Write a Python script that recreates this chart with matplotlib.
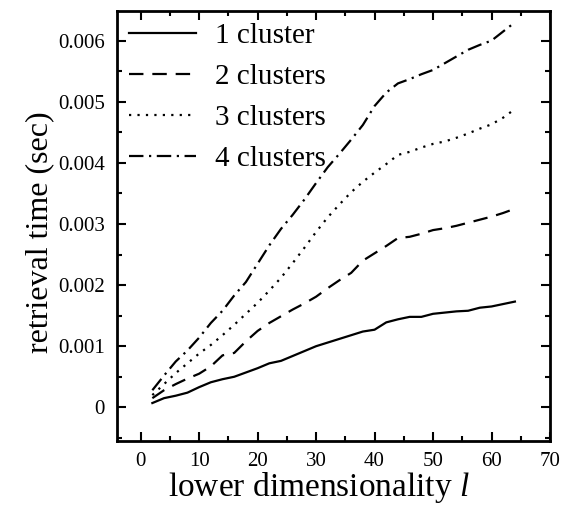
import matplotlib
matplotlib.use("Agg")
import matplotlib.pyplot as plt
from matplotlib.ticker import MultipleLocator

plt.rcParams['font.family'] = ['Liberation Serif', 'DejaVu Serif']
plt.rcParams['mathtext.fontset'] = 'custom'
plt.rcParams['mathtext.it'] = 'Liberation Serif:italic'

# lower dimensionality l
dims = list(range(2, 66, 2))

# retrieval time (sec)
one_cluster = [0.00007, 0.00015, 0.00019, 0.00024, 0.00033, 0.00041, 0.00046, 0.00050,
               0.00057, 0.00064, 0.00072, 0.00076, 0.00084, 0.00092, 0.00100, 0.00106,
               0.00112, 0.00118, 0.00124, 0.00127, 0.00139, 0.00144, 0.00148, 0.00148,
               0.00153, 0.00155, 0.00157, 0.00158, 0.00163, 0.00165, 0.00169, 0.00173]
two_clusters = [0.00015, 0.00028, 0.00038, 0.00047, 0.00055, 0.00067, 0.00085, 0.00089,
                0.00108, 0.00125, 0.00138, 0.00149, 0.00160, 0.00170, 0.00181, 0.00195,
                0.00208, 0.00220, 0.00240, 0.00252, 0.00264, 0.00277, 0.00279, 0.00284,
                0.00290, 0.00293, 0.00297, 0.00302, 0.00307, 0.00312, 0.00318, 0.00325]
three_clusters = [0.00020, 0.00038, 0.00056, 0.00072, 0.00088, 0.00102, 0.00118, 0.00135,
                  0.00153, 0.00171, 0.00191, 0.00212, 0.00236, 0.00261, 0.00287, 0.00311,
                  0.00332, 0.00352, 0.00369, 0.00384, 0.00398, 0.00413, 0.00418, 0.00425,
                  0.00431, 0.00435, 0.00441, 0.00448, 0.00456, 0.00463, 0.00474, 0.00488]
four_clusters = [0.00028, 0.00052, 0.00075, 0.00093, 0.00114, 0.00138, 0.00158, 0.00183,
                 0.00205, 0.00235, 0.00265, 0.00292, 0.00315, 0.00340, 0.00367, 0.00393,
                 0.00415, 0.00438, 0.00462, 0.00493, 0.00515, 0.00530, 0.00537, 0.00545,
                 0.00552, 0.00563, 0.00574, 0.00585, 0.00593, 0.00600, 0.00615, 0.00630]

labels = ['1 cluster', '2 clusters', '3 clusters', '4 clusters']

fig = plt.figure(figsize=(5.66, 5.11), dpi=100)
ax = fig.add_axes([0.2072, 0.1376, 0.7645, 0.8415])

lw = 1.6
ax.plot(dims, one_cluster, color='black', lw=lw, linestyle='-', label=labels[0])
ax.plot(dims, two_clusters, color='black', lw=lw, linestyle=(0, (6.5, 4)), label=labels[1])
ax.plot(dims, three_clusters, color='black', lw=lw, linestyle=(0, (1, 2.8)), label=labels[2])
ax.plot(dims, four_clusters, color='black', lw=lw, linestyle=(0, (6.5, 2.5, 1, 2.5)), label=labels[3])

ax.set_xlim(-4, 70)
ax.set_ylim(-0.000546, 0.00649)
ax.xaxis.set_major_locator(MultipleLocator(10))
ax.xaxis.set_minor_locator(MultipleLocator(5))
ax.yaxis.set_minor_locator(MultipleLocator(0.0005))
ax.set_yticks([0, 0.001, 0.002, 0.003, 0.004, 0.005, 0.006])
ax.set_yticklabels(['0', '0.001', '0.002', '0.003', '0.004', '0.005', '0.006'])

ax.tick_params(which='both', direction='in', top=True, right=True, labelsize=15, width=1.5)
ax.tick_params(which='major', length=6.5)
ax.tick_params(which='minor', length=3.4)
ax.tick_params(axis='x', which='major', pad=8)
ax.tick_params(axis='y', which='major', pad=9)
for s in ax.spines.values():
    s.set_linewidth(2)

ax.set_xlabel('lower dimensionality $\\mathit{l}$', fontsize=24)
ax.xaxis.set_label_coords(0.466, -0.068)
ax.set_ylabel('retrieval time (sec)', fontsize=23)
ax.yaxis.set_label_coords(-0.145, 0.484)

ax.legend(loc='upper left', bbox_to_anchor=(0.0, 1.0), frameon=False, fontsize=21,
          handlelength=2.3, handletextpad=0.65, labelspacing=0.5, borderpad=0,
          borderaxespad=0.4)

fig.savefig('out.png', dpi=100)
